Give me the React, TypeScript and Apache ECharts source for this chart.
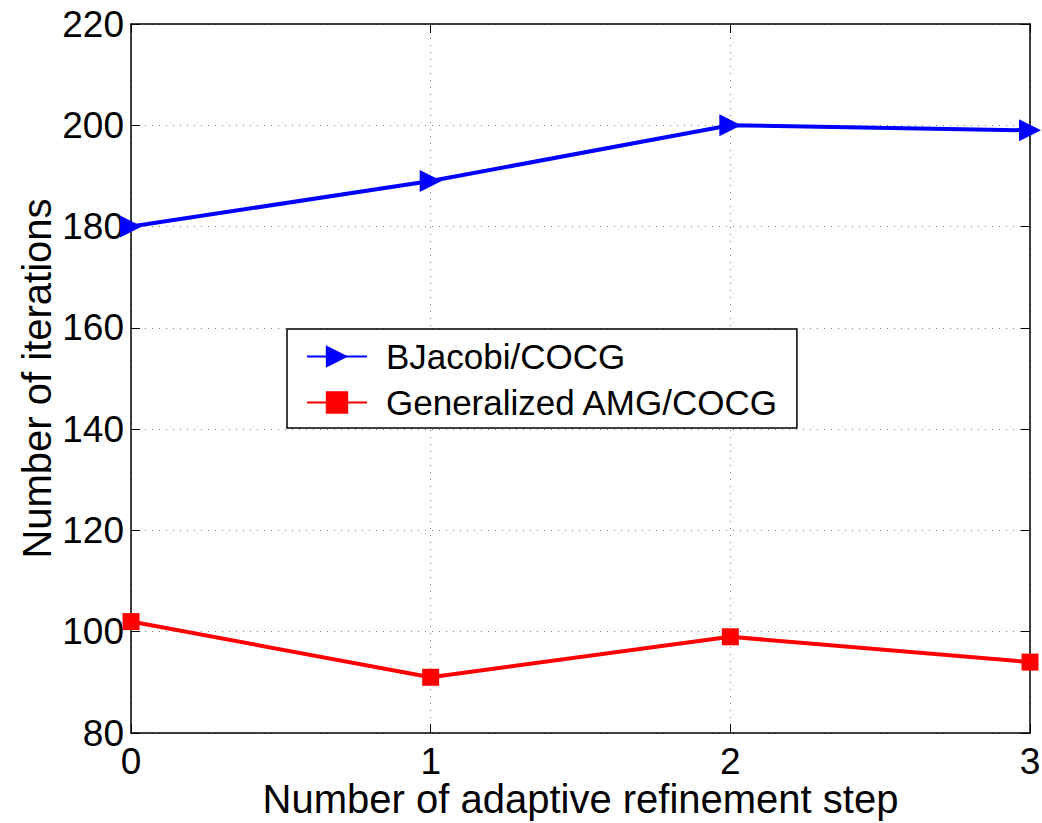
import React, { useEffect, useRef } from "react";
import * as echarts from "echarts";

const steps = [0, 1, 2, 3];
const bjacobi = [180, 189, 200, 199];
const amg = [102, 91, 99, 94];
const seriesNames = ["BJacobi/COCG", "Generalized AMG/COCG"];

const FONT = "'Liberation Sans', Arial, sans-serif";

export default function App() {
  const ref = useRef<HTMLDivElement>(null);

  useEffect(() => {
    if (!ref.current) return;
    const chart = echarts.init(ref.current, null, { renderer: "svg" });
    const gridLine = { show: true, lineStyle: { color: "#777", type: [1, 6] as any, width: 1 } };
    const frameAxis = {
      axisLine: { show: true, onZero: false, lineStyle: { color: "#000", width: 1.5 } },
      axisTick: { show: true, inside: true, length: 9, lineStyle: { color: "#000", width: 1 } },
    };
    chart.setOption({
      animation: false,
      backgroundColor: "#fff",
      textStyle: { fontFamily: FONT },
      grid: {
        left: 131,
        right: 12,
        top: 24,
        bottom: 90,
        containLabel: false,
        outerBoundsMode: "none",
      },
      legend: {
        left: 287,
        top: 329,
        orient: "vertical",
        data: seriesNames,
        backgroundColor: "#fff",
        borderColor: "#000",
        borderWidth: 1.5,
        borderRadius: 0,
        padding: [10, 18, 8, 19],
        itemWidth: 60,
        itemHeight: 28,
        itemGap: 11,
        textStyle: { fontFamily: FONT, fontSize: 35, color: "#000", padding: [0, 0, 0, 14] },
      },
      xAxis: [
        {
          type: "value",
          min: 0,
          max: 3,
          interval: 1,
          name: "Number of adaptive refinement step",
          nameLocation: "middle",
          nameGap: 46,
          nameMoveOverlap: false,
          nameTextStyle: { fontFamily: FONT, fontSize: 40, color: "#000", lineHeight: 40 },
          axisLabel: { fontFamily: FONT, fontSize: 37, color: "#000", margin: 14, lineHeight: 28 },
          splitLine: gridLine,
          ...frameAxis,
        },
        {
          type: "value",
          position: "top",
          min: 0,
          max: 3,
          interval: 1,
          axisLabel: { show: false },
          splitLine: { show: false },
          ...frameAxis,
        },
      ],
      yAxis: [
        {
          type: "value",
          min: 80,
          max: 220,
          interval: 20,
          name: "Number of iterations",
          nameLocation: "middle",
          nameGap: 74,
          nameMoveOverlap: false,
          nameTextStyle: { fontFamily: FONT, fontSize: 40, color: "#000" },
          axisLabel: { fontFamily: FONT, fontSize: 37, color: "#000", margin: 7 },
          splitLine: gridLine,
          ...frameAxis,
        },
        {
          type: "value",
          position: "right",
          min: 80,
          max: 220,
          interval: 20,
          axisLabel: { show: false },
          splitLine: { show: false },
          ...frameAxis,
        },
      ],
      series: [
        {
          name: seriesNames[0],
          type: "line",
          data: steps.map((s, i) => [s, bjacobi[i]]),
          clip: false,
          symbol: "triangle",
          symbolRotate: -90,
          symbolSize: [22, 22],
          lineStyle: { color: "#0000ff", width: 4 },
          itemStyle: { color: "#0000ff" },
        },
        {
          name: seriesNames[1],
          type: "line",
          data: steps.map((s, i) => [s, amg[i]]),
          clip: false,
          symbol: "rect",
          symbolSize: 17,
          lineStyle: { color: "#ff0000", width: 4 },
          itemStyle: { color: "#ff0000" },
        },
      ],
    });
    return () => chart.dispose();
  }, []);

  return (
    <div
      ref={ref}
      style={{ position: "fixed", left: 0, top: 0, width: 1042, height: 823, background: "#fff" }}
    />
  );
}
